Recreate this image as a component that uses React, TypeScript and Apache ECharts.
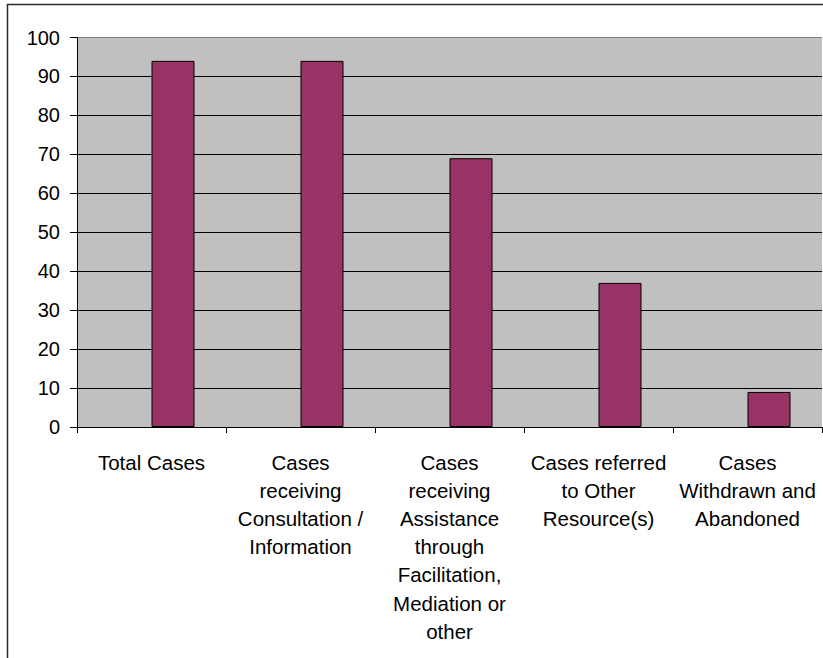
import React, { useEffect, useRef } from "react";
import * as echarts from "echarts";

// Case categories (wrapped the way they appear under the axis)
const categories: string[] = [
  "Total Cases",
  "Cases\nreceiving\nConsultation /\nInformation",
  "Cases\nreceiving\nAssistance\nthrough\nFacilitation,\nMediation or\nother",
  "Cases referred\nto Other\nResource(s)",
  "Cases\nWithdrawn and\nAbandoned",
];

// Number of cases per category
const caseCounts: number[] = [94, 94, 69, 37, 9];

// Empty leading slot so each bar sits right of its category centre
const emptySlot: (number | null)[] = [null, null, null, null, null];

const yMin = 0;
const yMax = 100;
const yStep = 10;

const FONT = "'Liberation Sans', Arial, Helvetica, sans-serif";

export default function App() {
  const ref = useRef<HTMLDivElement>(null);

  useEffect(() => {
    if (!ref.current) return;
    const chart = echarts.init(ref.current, null, { renderer: "svg" });

    const gridLineCount = (yMax - yMin) / yStep + 1;
    const gridColors: string[] = [];
    for (let i = 0; i < gridLineCount; i++) {
      gridColors.push(i === gridLineCount - 1 ? "#808080" : "#000000");
    }

    chart.setOption({
      animation: false,
      backgroundColor: "#ffffff",
      textStyle: { fontFamily: FONT },
      grid: {
        left: 77,
        top: 37.5,
        right: 1,
        bottom: 231,
        show: true,
        backgroundColor: "#C0C0C0",
        borderWidth: 0,
      },
      graphic: [
        {
          type: "rect",
          z: 100,
          silent: true,
          shape: { x: 7.5, y: 4.5, width: 900, height: 700 },
          style: { fill: "none", stroke: "#2a2a2a", lineWidth: 1.5 },
        },
      ],
      xAxis: {
        type: "category",
        data: categories,
        boundaryGap: true,
        axisLine: { show: true, lineStyle: { color: "#000000", width: 1 } },
        axisTick: {
          show: true,
          interval: 0,
          length: 6,
          alignWithLabel: false,
          lineStyle: { color: "#000000" },
        },
        axisLabel: {
          interval: 0,
          margin: 21,
          color: "#000000",
          fontFamily: FONT,
          fontSize: 20.5,
          lineHeight: 28.2,
          align: "center",
          verticalAlign: "top",
        },
        splitLine: { show: false },
      },
      yAxis: {
        type: "value",
        min: yMin,
        max: yMax,
        interval: yStep,
        axisLine: { show: true, lineStyle: { color: "#000000", width: 1 } },
        axisTick: { show: true, length: 7, lineStyle: { color: "#000000" } },
        axisLabel: {
          margin: 17,
          color: "#000000",
          fontFamily: FONT,
          fontSize: 20,
        },
        splitLine: {
          show: true,
          lineStyle: { color: gridColors, width: 1 },
        },
      },
      series: [
        {
          name: "blank",
          type: "bar",
          data: emptySlot,
          barWidth: 43,
          barGap: "0%",
          silent: true,
        },
        {
          name: "Cases",
          type: "bar",
          data: caseCounts,
          barWidth: 43,
          barGap: "0%",
          itemStyle: {
            color: "#993366",
            borderColor: "#000000",
            borderWidth: 1,
          },
        },
      ],
    });

    return () => {
      chart.dispose();
    };
  }, []);

  return (
    <div
      ref={ref}
      style={{ position: "fixed", left: 0, top: 0, width: 823, height: 658 }}
    />
  );
}
